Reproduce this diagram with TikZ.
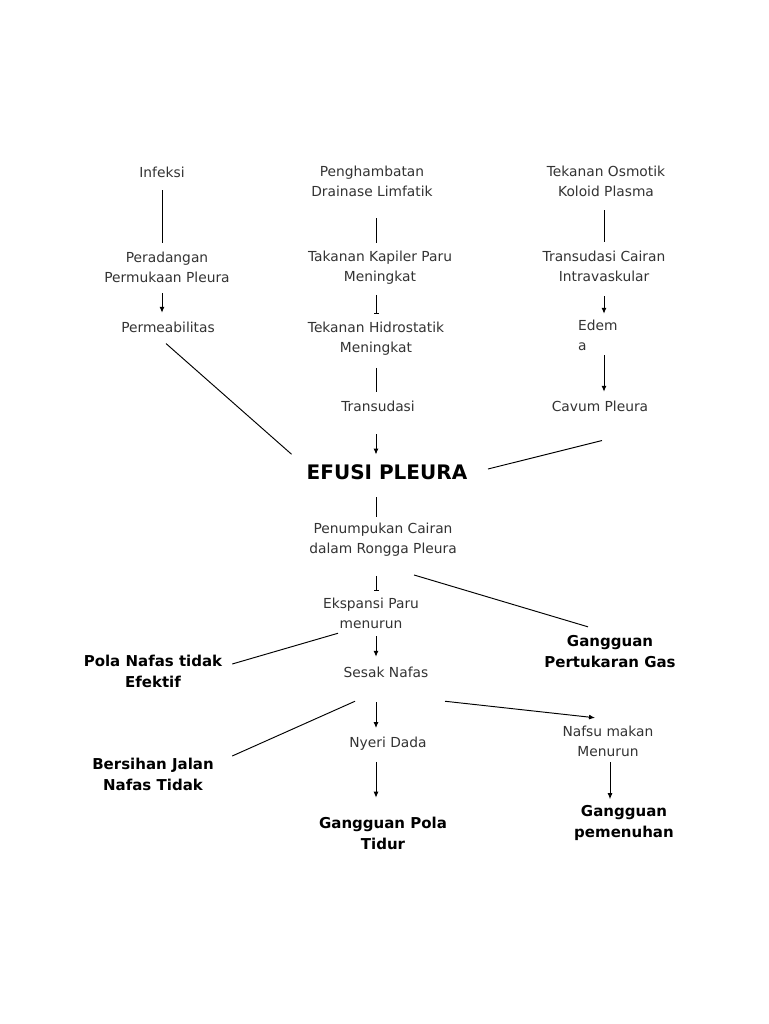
\documentclass[tikz,border=0pt]{standalone}
\usepackage{fontspec}
\setmainfont{DejaVu Sans}
\usetikzlibrary{arrows.meta}

\tikzset{
  txt/.style={inner sep=0pt, align=center, text=black!80, font=\fontsize{13.8}{20}\selectfont},
  hasil/.style={inner sep=0pt, align=center, font=\fontsize{15}{21}\selectfont\bfseries},
  judul/.style={inner sep=0pt, font=\fontsize{20}{24}\selectfont\bfseries},
  ln/.style={line width=0.95pt},
  arr/.style={ln, -{Latex[length=6pt,width=5pt]}},
  bar/.style={ln, -{Bar[width=5pt]}}
}

\begin{document}
\begin{tikzpicture}[x=1pt, y=-1pt]
\useasboundingbox[fill=white] (0,0) rectangle (768,1024);
% kolom kiri
\node[txt] (infeksi) at (162,172) {Infeksi};
\node[txt] (peradangan) at (167,267.5) {Peradangan\\Permukaan Pleura};
\node[txt] (permeabilitas) at (168,327) {Permeabilitas};
% kolom tengah
\node[txt] (penghambatan) at (372,181.5) {Penghambatan\\Drainase Limfatik};
\node[txt] (kapiler) at (380,267.5) {Takanan Kapiler Paru\\Meningkat};
\node[txt] (hidrostatik) at (376,339) {Tekanan Hidrostatik\\Meningkat};
\node[txt] (transudasi) at (378,406) {Transudasi};
\node[judul] (efusi) at (387,472) {EFUSI PLEURA};
\node[txt] (penumpukan) at (383,540) {Penumpukan Cairan\\dalam Rongga Pleura};
\node[txt] (ekspansi) at (371,613) {Ekspansi Paru\\menurun};
\node[txt] (sesak) at (386,672) {Sesak Nafas};
\node[txt] (nyeri) at (388,743.5) {Nyeri Dada};
\node[hasil] (tidur) at (383,833.5) {Gangguan Pola\\Tidur};
% kolom kanan
\node[txt] (osmotik) at (606,181.5) {Tekanan Osmotik\\Koloid Plasma};
\node[txt] (cairan) at (604,266.5) {Transudasi Cairan\\Intravaskular};
\node[txt, align=left, anchor=west] (edema) at (578,335.5) {Edem\\a};
\node[txt] (cavum) at (600,406) {Cavum Pleura};
% diagnosa
\node[hasil] (pertukaran) at (610,652) {Gangguan\\Pertukaran Gas};
\node[hasil] (polanafas) at (153,671.5) {Pola Nafas tidak\\Efektif};
\node[hasil] (bersihan) at (153,774.5) {Bersihan Jalan\\Nafas Tidak};
\node[txt] (nafsu) at (608,741.5) {Nafsu makan\\Menurun};
\node[hasil] (pemenuhan) at (624,823) {Gangguan\\pemenuhan};

% garis kolom kiri
\draw[ln, shorten <=12.7pt, shorten >=9pt] (infeksi.south) -- (infeksi |- peradangan.north);
\draw[arr, shorten <=10pt, shorten >=8.7pt] (infeksi |- peradangan.south) -- (infeksi |- permeabilitas.north);
\draw[ln] ([xshift=-2pt,yshift=-11pt]permeabilitas.south) -- ([xshift=-15pt,yshift=10pt]efusi.north west);
% garis kolom tengah
\draw[ln, shorten <=21pt, shorten >=7.6pt] (hidrostatik |- penghambatan.south) -- (hidrostatik |- kapiler.north);
\draw[bar, shorten <=10.6pt, shorten >=8pt] (hidrostatik |- kapiler.south) -- (hidrostatik.north);
\draw[ln, shorten <=12pt, shorten >=8.7pt] (hidrostatik.south) -- (hidrostatik |- transudasi.north);
\draw[arr, shorten <=22.7pt, shorten >=9.7pt] (hidrostatik |- transudasi.south) -- (hidrostatik |- efusi.north);
\draw[ln, shorten <=17.7pt, shorten >=6.1pt] (hidrostatik |- efusi.south) -- (hidrostatik |- penumpukan.north);
\draw[bar, shorten <=19.1pt, shorten >=6.7pt] (hidrostatik |- penumpukan.south) -- (hidrostatik |- ekspansi.north);
\draw[arr, shorten <=7.7pt, shorten >=9.7pt] (hidrostatik |- ekspansi.south) -- (hidrostatik |- sesak.north);
\draw[arr, shorten <=24.7pt, shorten >=8.6pt] (hidrostatik |- sesak.south) -- (hidrostatik |- nyeri.north);
\draw[arr, shorten <=11.5pt, shorten >=19.3pt] (hidrostatik |- nyeri.south) -- (hidrostatik |- tidur.north);
% garis kolom kanan
\draw[ln, shorten <=13.2pt, shorten >=9.2pt] (cairan |- osmotik.south) -- (cairan.north);
\draw[arr, shorten <=14.2pt, shorten >=6.2pt] (cairan.south) -- (cairan |- edema.north);
\draw[arr, shorten <=4.2pt, shorten >=8.7pt] (cairan |- edema.south) -- (cairan |- cavum.north);
\draw[ln] ([xshift=2pt,yshift=-29pt]cavum.south) -- ([xshift=20.5pt,yshift=3pt]efusi.east);
% garis diagnosa
\draw[ln] ([xshift=31pt,yshift=-18.1pt]penumpukan.south) -- ([xshift=-22pt,yshift=8.8pt]pertukaran.north);
\draw[ln] ([xshift=-33pt,yshift=-4.7pt]ekspansi.south) -- ([xshift=9.8pt,yshift=7.5pt]polanafas.east);
\draw[ln] ([xshift=-31pt,yshift=-23.7pt]sesak.south) -- ([xshift=18.3pt,yshift=18.5pt]bersihan.east);
\draw[arr] ([xshift=59pt,yshift=-23.7pt]sesak.south) -- ([xshift=-13pt,yshift=8.2pt]nafsu.north);
\draw[arr, shorten <=5.2pt, shorten >=6pt] ([xshift=2pt]nafsu.south) -- ([xshift=2pt]nafsu.south |- pemenuhan.north);
\end{tikzpicture}
\end{document}
